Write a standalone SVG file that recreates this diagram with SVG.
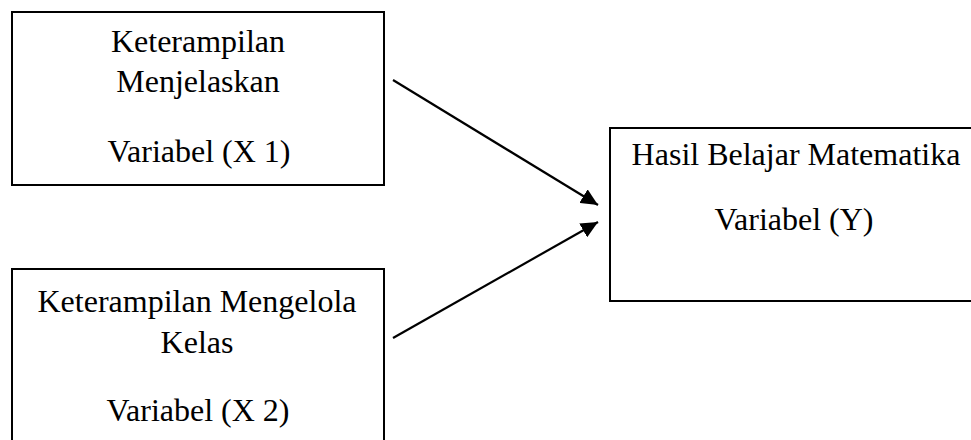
<svg xmlns="http://www.w3.org/2000/svg" width="971" height="440" viewBox="0 0 971 440">
<style>
.box{fill:#fff;stroke:#000;stroke-width:2}
.t{font-family:"Liberation Serif","Times New Roman",serif;font-size:32px;fill:#000;text-anchor:middle}
.conn{stroke:#000;stroke-width:2.2;fill:none;marker-end:url(#ah)}
</style>
<defs>
<marker id="ah" markerUnits="userSpaceOnUse" markerWidth="18" markerHeight="16" refX="17" refY="8" orient="auto">
<path d="M0,0 L17,8 L0,16 Z" fill="#000"/>
</marker>
</defs>
<rect width="971" height="440" fill="#fff"/>
<g id="node-x1">
<rect class="box" x="12" y="12" width="372" height="173"/>
<text class="t" x="198" y="52">Keterampilan</text>
<text class="t" x="198" y="92">Menjelaskan</text>
<text class="t" x="199" y="162">Variabel (X 1)</text>
</g>
<g id="node-x2">
<rect class="box" x="12" y="269" width="372" height="190"/>
<text class="t" x="197" y="312">Keterampilan Mengelola</text>
<text class="t" x="197" y="353">Kelas</text>
<text class="t" x="198" y="421">Variabel (X 2)</text>
</g>
<g id="node-y">
<rect class="box" x="610" y="128" width="380" height="173"/>
<text class="t" x="796" y="165">Hasil Belajar Matematika</text>
<text class="t" x="794" y="230">Variabel (Y)</text>
</g>
<g id="connectors">
<line class="conn" x1="393" y1="80" x2="598" y2="205"/>
<line class="conn" x1="393" y1="338" x2="598" y2="222"/>
</g>
</svg>
